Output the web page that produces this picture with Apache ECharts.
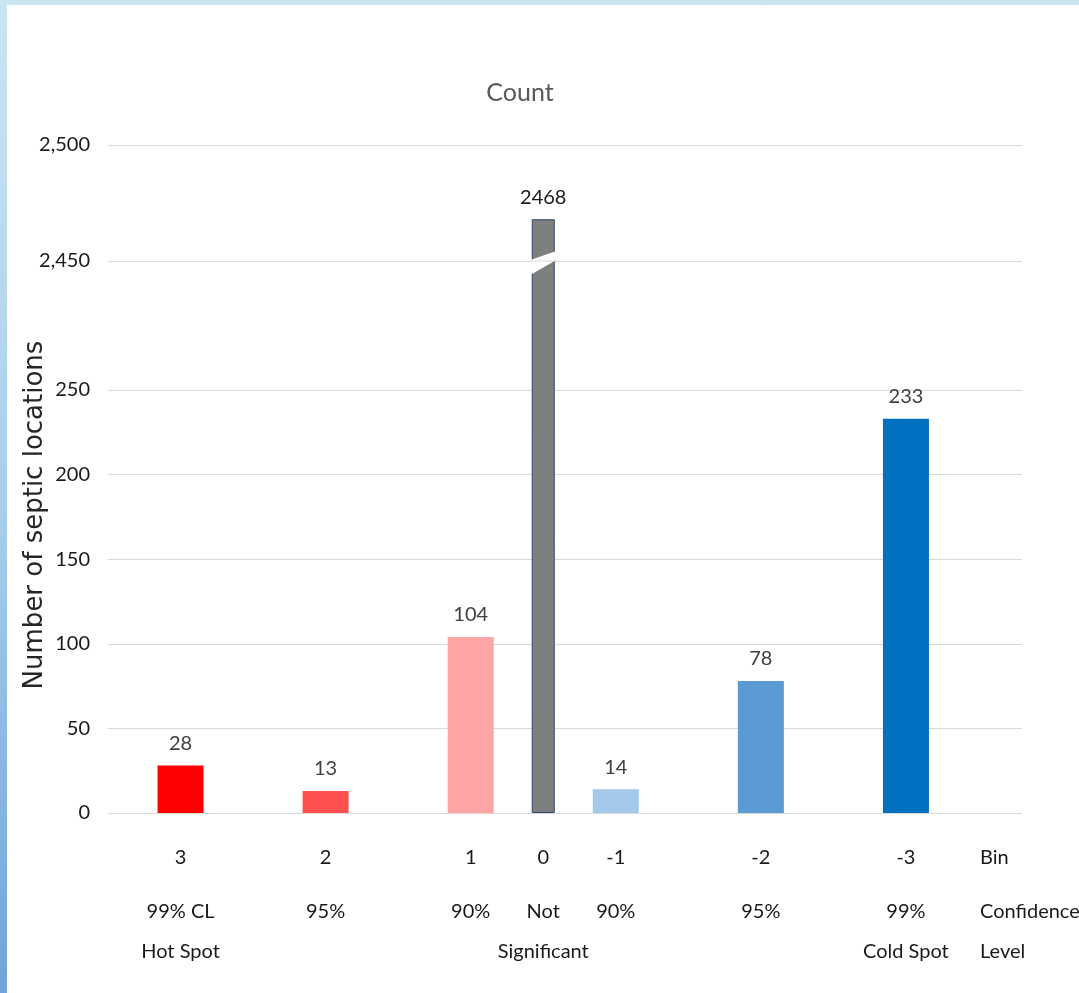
<!DOCTYPE html>
<html>
<head>
<meta charset="utf-8">
<script src="https://cdn.jsdelivr.net/npm/echarts@6/dist/echarts.min.js"></script>
<style>
  html, body { margin: 0; padding: 0; width: 1079px; height: 993px; overflow: hidden; }
  body { background: linear-gradient(180deg, #c9e5f2 0%, #a9cfec 50%, #6fa4dc 100%); position: relative; }
  #paper { position: absolute; left: 7px; top: 5px; right: 0; bottom: 0; background: #ffffff; }
  #main { position: absolute; left: 0; top: 0; width: 1079px; height: 993px; }
</style>
</head>
<body>
<div id="paper"></div>
<div id="main"></div>
<script>
// ---- data ----
const bins = ['3', '2', '1', '0', '-1', '-2', '-3'];
const confidence = ['99% CL\nHot Spot', '95%', '90%', 'Not\nSignificant', '90%', '95%', '99%\nCold Spot'];
const counts = [28, 13, 104, 2468, 14, 78, 233];
// Category rows of the source sheet, blank rows act as spacers
const slots = ['3', '', '2', '', '1', '0', '-1', '', '-2', '', '-3'];
const lowerTicks = [0, 50, 100, 150, 200, 250];
const upperTicks = [2450, 2500];
const barColors = ['#ff0000', '#ff5050', '#ffa5a5', '#7f7f7f', '#a3c8e9', '#5b9bd5', '#0070c0'];

// ---- layout ----
const FONT = "Lato, 'Liberation Sans', sans-serif";
const FS = 20;
const gridL = 108, gridR = 1022;
const y0 = 813, yLowTop = 390, yBreak = 261, yTop = 145;
const lowerMaxLabel = lowerTicks[lowerTicks.length - 1];
const lowerMax = lowerMaxLabel * (y0 - yBreak) / (y0 - yLowTop);
const xMin = -1, xMax = 11.6;

const slotOf = b => slots.indexOf(b);
const fmtComma = v => String(v).replace(/\B(?=(\d{3})+(?!\d))/g, ',');

const normalData = [];
const brokenData = [];
bins.forEach((b, i) => {
  const item = { value: [slotOf(b), counts[i]], itemStyle: { color: barColors[i] } };
  if (counts[i] <= lowerMaxLabel) normalData.push(item); else brokenData.push(item);
});

const chart = echarts.init(document.getElementById('main'), null, { renderer: 'canvas' });

const xBase = {
  type: 'value', min: xMin, max: xMax, interval: 1,
  axisLine: { show: false }, axisTick: { show: false }, splitLine: { show: false }
};

const nLowerLines = Math.ceil(lowerMax / 50) + 1;
const lowerLineColors = [];
for (let k = 0; k < nLowerLines + 1; k++) {
  lowerLineColors.push(k * 50 <= lowerMaxLabel ? '#d9d9d9' : 'rgba(0,0,0,0)');
}

const option = {
  backgroundColor: 'transparent',
  animation: false,
  grid: [
    { left: gridL, right: 1079 - gridR, top: yBreak, bottom: 993 - y0 },
    { left: gridL, right: 1079 - gridR, top: yTop, bottom: 993 - yBreak }
  ],
  xAxis: [
    Object.assign({}, xBase, {
      gridIndex: 0,
      axisLabel: {
        show: true, margin: 11, color: '#1a1a1a', fontFamily: FONT,
        formatter: function (v) {
          const r = Math.round(v);
          if (Math.abs(v - r) > 1e-6) return '';
          const s = slots[r];
          if (!s) return '';
          const i = bins.indexOf(s);
          const parts = confidence[i].split('\n');
          return '{b|' + s + '}\n{c|' + parts[0] + '}\n{c|' + (parts[1] || ' ') + '}';
        },
        rich: {
          b: { fontSize: FS, lineHeight: 68, fontFamily: FONT, color: '#1a1a1a' },
          c: { fontSize: FS, lineHeight: 40, fontFamily: FONT, color: '#1a1a1a' }
        }
      }
    }),
    Object.assign({}, xBase, { gridIndex: 0, axisLabel: { show: false } }),
    Object.assign({}, xBase, { gridIndex: 1, axisLabel: { show: false } })
  ],
  yAxis: [
    {
      type: 'value', gridIndex: 0, min: 0, max: lowerMax, interval: 50,
      axisLine: { show: false }, axisTick: { show: false },
      splitLine: { show: true, lineStyle: { color: lowerLineColors, width: 1 } },
      axisLabel: {
        margin: 18, color: '#1a1a1a', fontSize: FS, fontFamily: FONT,
        formatter: v => (lowerTicks.indexOf(v) >= 0 ? fmtComma(v) : '')
      }
    },
    {
      type: 'value', gridIndex: 1, min: upperTicks[0], max: upperTicks[upperTicks.length - 1], interval: 50,
      axisLine: { show: false }, axisTick: { show: false },
      splitLine: { show: true, lineStyle: { color: '#d9d9d9', width: 1 } },
      axisLabel: {
        margin: 18, color: '#1a1a1a', fontSize: FS, fontFamily: FONT,
        formatter: v => fmtComma(v)
      }
    }
  ],
  series: [
    {
      type: 'bar', xAxisIndex: 0, yAxisIndex: 0, barWidth: 46,
      data: normalData,
      label: { show: true, position: 'top', distance: 12, color: '#404040', fontSize: FS, fontFamily: FONT,
               formatter: p => p.value[1] }
    },
    {
      type: 'bar', xAxisIndex: 1, yAxisIndex: 0, barWidth: 23,
      data: brokenData,
      itemStyle: { borderColor: '#2f4470', borderWidth: 1 }
    },
    {
      type: 'bar', xAxisIndex: 2, yAxisIndex: 1, barWidth: 23,
      data: brokenData,
      itemStyle: { borderColor: '#2f4470', borderWidth: 1 },
      label: { show: true, position: 'top', distance: 12, color: '#1a1a1a', fontSize: FS, fontFamily: FONT,
               formatter: p => p.value[1] }
    }
  ]
};

option.graphic = [
  { type: 'text', x: 520, y: 93, z: 20,
    style: { text: 'Count', fontSize: 25, fontFamily: FONT, fill: '#595959', textAlign: 'center', textVerticalAlign: 'middle' } },
  { type: 'text', x: 35, y: 515, rotation: Math.PI / 2, z: 20,
    style: { text: 'Number of septic locations', fontSize: 26, fontFamily: "'DejaVu Sans',sans-serif", fill: '#262626', textAlign: 'center', textVerticalAlign: 'middle' } },
  { type: 'text', x: 980, y: 858, z: 20,
    style: { text: 'Bin', fontSize: FS, fontFamily: FONT, fill: '#1a1a1a', textAlign: 'left', textVerticalAlign: 'middle' } },
  { type: 'text', x: 980, y: 912, z: 20,
    style: { text: 'Confidence', fontSize: FS, fontFamily: FONT, fill: '#1a1a1a', textAlign: 'left', textVerticalAlign: 'middle' } },
  { type: 'text', x: 980, y: 952, z: 20,
    style: { text: 'Level', fontSize: FS, fontFamily: FONT, fill: '#1a1a1a', textAlign: 'left', textVerticalAlign: 'middle' } }
];

chart.setOption(option);

// axis-break slash across the broken bar(s)
const extra = [];
brokenData.forEach(d => {
  const cx = chart.convertToPixel({ xAxisIndex: 2, yAxisIndex: 1 }, [d.value[0], upperTicks[0]]);
  const xl = cx[0] - 13, xr = cx[0] + 13, yc = cx[1];
  extra.push({ type: 'polygon', z: 30, silent: true,
    shape: { points: [[xl, yc - 1], [xr, yc - 10], [xr, yc - 1], [xl, yc + 14]] },
    style: { fill: '#ffffff' } });
  extra.push({ type: 'line', z: 31, silent: true,
    shape: { x1: xl, y1: yc, x2: xr, y2: yc },
    style: { stroke: '#d9d9d9', lineWidth: 1 } });
});
chart.setOption({ graphic: option.graphic.concat(extra) });
</script>
</body>
</html>
